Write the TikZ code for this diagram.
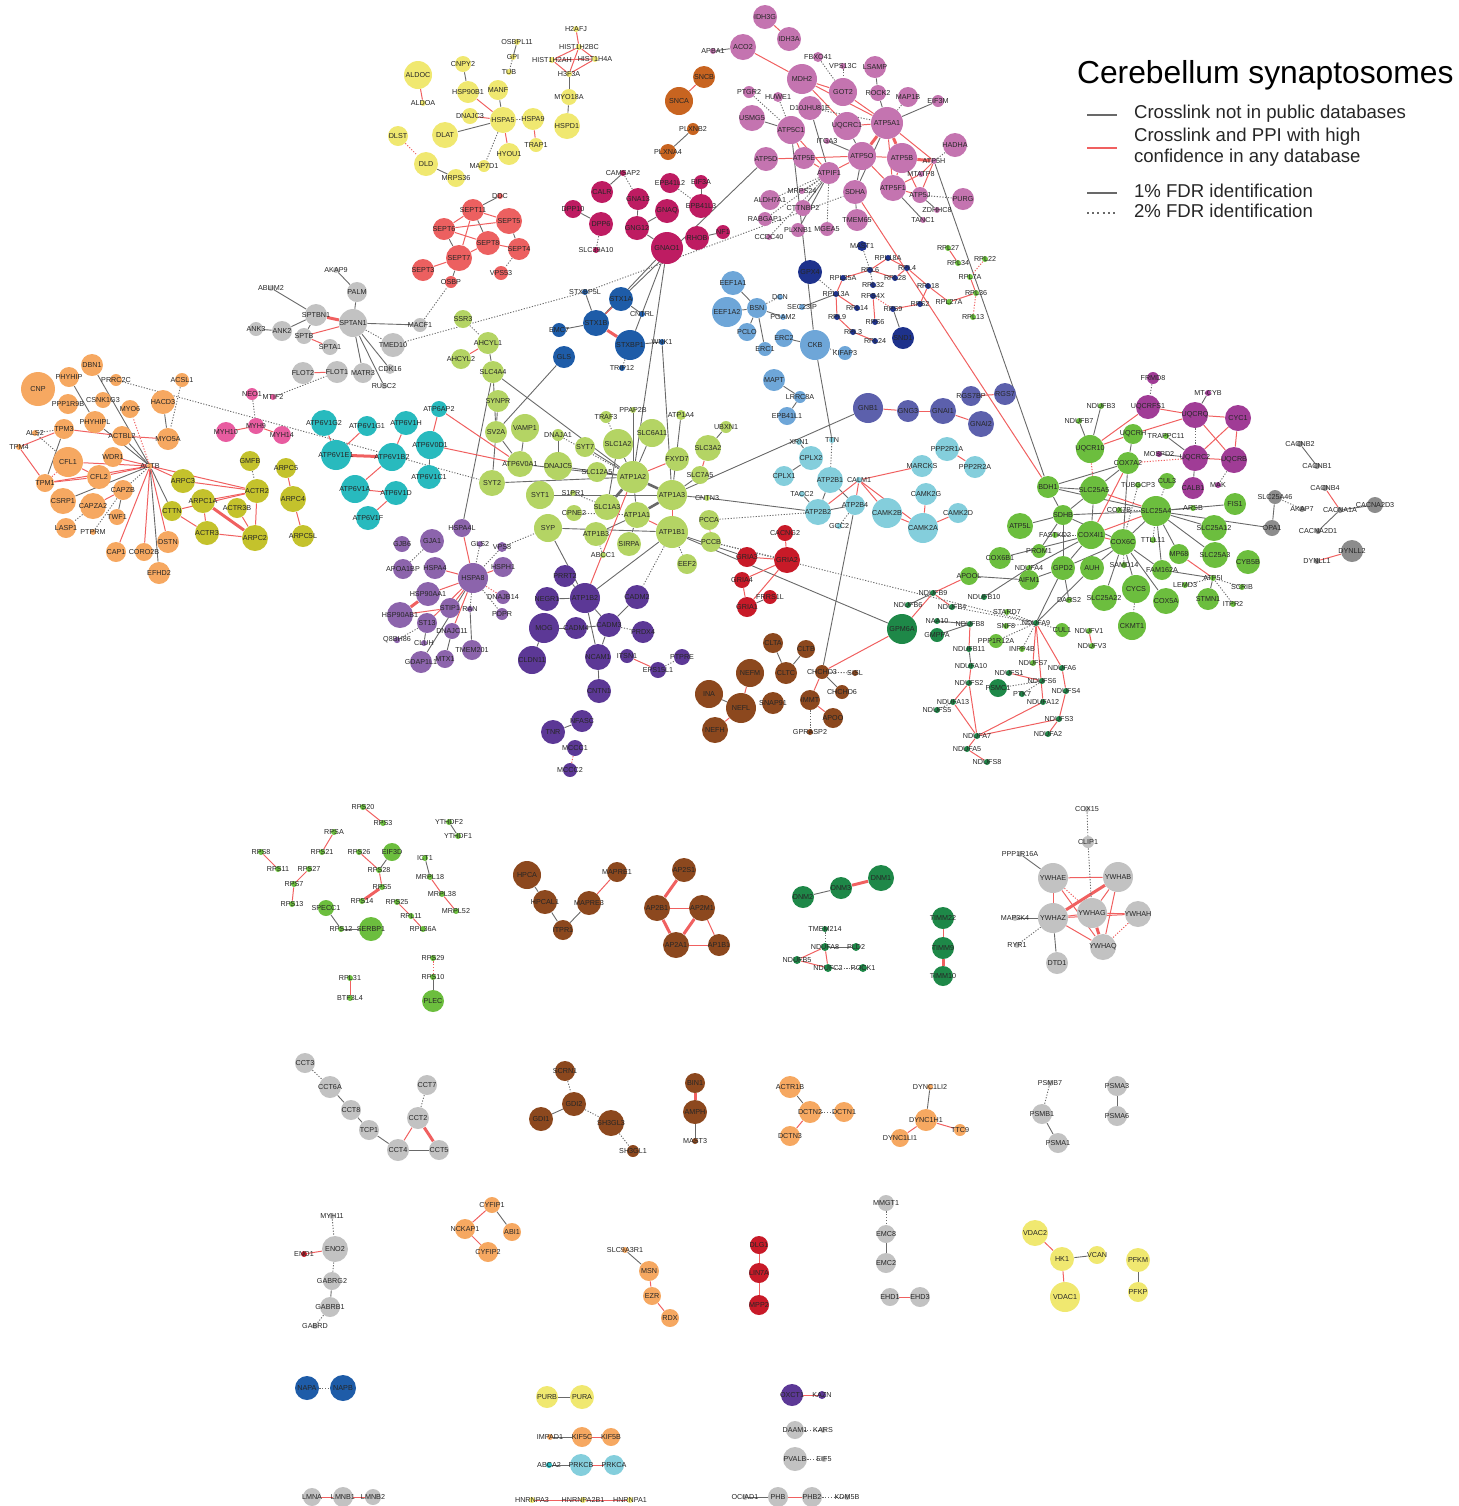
\documentclass[tikz,border=0pt]{standalone}
\usepackage{fontspec}
\setmainfont{Liberation Sans}
\usepackage{tikz}
\usetikzlibrary{positioning}
\definecolor{corange}{RGB}{246,168,97}
\definecolor{colive}{RGB}{196,194,44}
\definecolor{cpink}{RGB}{232,92,160}
\definecolor{cgray}{RGB}{194,194,194}
\definecolor{cdgray}{RGB}{140,140,140}
\definecolor{cyellow}{RGB}{240,232,112}
\definecolor{csalmon}{RGB}{236,96,96}
\definecolor{ccrimson}{RGB}{190,28,98}
\definecolor{corchid}{RGB}{196,116,176}
\definecolor{crust}{RGB}{200,100,32}
\definecolor{cteal}{RGB}{40,186,190}
\definecolor{clime}{RGB}{180,212,100}
\definecolor{cblue}{RGB}{30,92,168}
\definecolor{csky}{RGB}{110,166,216}
\definecolor{cnavy}{RGB}{30,50,140}
\definecolor{cgreen}{RGB}{108,190,62}
\definecolor{cslate}{RGB}{92,96,172}
\definecolor{ccyan}{RGB}{132,206,220}
\definecolor{clav}{RGB}{140,100,172}
\definecolor{cdpurp}{RGB}{92,56,150}
\definecolor{cred}{RGB}{200,26,40}
\definecolor{cbrown}{RGB}{140,72,30}
\definecolor{cmag}{RGB}{160,60,150}
\definecolor{cdgreen}{RGB}{30,136,72}
\definecolor{edgegray}{RGB}{105,105,105}
\definecolor{edgered}{RGB}{240,96,96}
\pgfdeclarelayer{edges}
\pgfsetlayers{edges,main}
\tikzset{
    prot/.style={circle, inner sep=0pt, minimum size=#1*0.5pt, text=black!85,
        font=\fontsize{3.6pt}{4pt}\selectfont},
    ge/.style={draw=edgegray, line width=0.45pt},
    re/.style={draw=edgered, line width=0.5pt},
    gd/.style={ge, dash pattern=on 0.6pt off 0.8pt},
    rd/.style={re, dash pattern=on 0.6pt off 0.8pt},
    geT/.style={ge, line width=1.3pt},
    reT/.style={re, line width=1.5pt},
    legtxt/.style={anchor=west, align=left, font=\fontsize{9.3pt}{10.6pt}\selectfont, text=black!85},
}
\begin{document}
\begin{tikzpicture}[x=0.5pt, y=-0.5pt]
    \useasboundingbox (0,0) rectangle (1458,1506);

    % Actin
    \foreach \n/\x/\y/\d in {CNP/38/389/34, PHYHIP/69/377/20, DBN1/92/365/22, PRRC2C/116/380/12,
        ACSL1/182/380/14, PPP1R9B/68/404/20, CSNK1G3/103/400/16, MYO6/130/409/18, HACD3/163/402/24,
        PHYHIPL/95/422/22, TPM3/64/429/20, ALS2/35/433/6, TPM4/19/447/6, ACTBL2/122/436/20,
        MYO5A/168/439/22, CFL1/68/462/30, WDR1/113/457/20, ACTB/150/466/6, TPM1/45/483/18,
        CFL2/99/477/24, CSRP1/63/501/26, CAPZB/123/490/20, CAPZA2/93/506/26, TWF1/117/517/16,
        LASP1/66/528/20, PTPRM/93/532/6, CAP1/116/552/20, CORO2B/144/552/18, DSTN/168/542/22,
        EFHD2/159/573/22, CYFIP1/492/1205/16, NCKAP1/465/1229/20, ABI1/512/1232/18, CYFIP2/488/1252/20,
        SLC9A3R1/625/1250/6, MSN/649/1271/20, EZR/652/1296/18, RDX/670/1318/18,
        ACTR1B/790/1087/22, DCTN2/810/1112/22, DCTN1/844/1112/20, DCTN3/790/1136/20,
        DYNC1LI2/930/1087/6, DYNC1H1/926/1120/22, DYNC1LI1/900/1138/18, TTC9/960/1130/12,
        IMPAD1/550/1437/6, KIF5C/582/1437/20, KIF5B/611/1437/18}
        \node[prot=\d, fill=corange] (\n) at (\x,\y) {\makebox[0pt]{\n}};

    % Arp2/3
    \foreach \n/\x/\y/\d in {ARPC3/183/481/24, GMFB/250/461/20, ARPC5/286/468/20, ACTR2/257/491/24,
        ARPC4/293/499/26, ARPC1A/203/501/24, ACTR3B/237/508/20, CTTN/172/511/20, ACTR3/207/533/24,
        ARPC2/255/538/26, ARPC5L/303/536/22}
        \node[prot=\d, fill=colive] (\n) at (\x,\y) {\makebox[0pt]{\n}};

    % Myosin
    \foreach \n/\x/\y/\d in {NEO1/252/394/12, MTIF2/273/397/6, MYH10/226/432/20, MYH9/256/426/16,
        MYH14/282/435/18}
        \node[prot=\d, fill=cpink] (\n) at (\x,\y) {\makebox[0pt]{\n}};

    % Grey proteins
    \foreach \n/\x/\y/\d in {AKAP9/336/270/6, ABLIM2/271/288/6, PALM/357/292/20, SPTBN1/316/315/22,
        SPTAN1/353/323/28, MACF1/420/325/14, ANK3/256/329/14, ANK2/282/331/20, SPTB/304/336/16,
        SPTA1/330/347/16, TMED10/393/345/24, FLOT2/303/373/22, FLOT1/337/372/22, MATR3/363/373/20,
        CDK16/390/369/10, RUSC2/384/386/6,
        COX15/1087/809/6, CLIP1/1088/842/12, PPP1R16A/1020/854/6, YWHAE/1053/878/30, YWHAB/1118/877/30,
        YWHAG/1092/913/30, YWHAH/1138/914/26, MAP3K4/1015/918/6, YWHAZ/1053/918/30, RYR1/1017/945/6,
        YWHAQ/1103/947/26, DTD1/1057/963/22,
        CCT3/305/1063/20, CCT6A/330/1087/22, CCT8/351/1110/20, CCT7/427/1085/20, TCP1/369/1130/20,
        CCT2/418/1118/22, CCT4/398/1150/22, CCT5/439/1150/20,
        PSMB7/1050/1083/6, PSMB1/1042/1114/20, PSMA1/1058/1143/20, PSMA3/1117/1086/20, PSMA6/1117/1116/20,
        MYH11/332/1216/6, ENO2/335/1249/26, GABRG2/332/1281/18, GABRB1/330/1307/20, GABRD/315/1326/6,
        MMGT1/886/1203/16, EMC8/886/1234/18, EMC2/886/1263/20, EHD1/890/1297/18, EHD3/920/1297/20,
        DAAM1/795/1430/18, KARS/823/1430/6, PVALB/795/1459/24, EIF5/824/1459/6,
        LMNA/312/1497/18, LMNB1/343/1497/20, LMNB2/373/1497/16,
        OCIAD1/745/1497/6, PHB/778/1497/20, PHB2/812/1497/20, KDM5B/847/1497/6}
        \node[prot=\d, fill=cgray] (\n) at (\x,\y) {\makebox[0pt]{\n}};
    \foreach \n/\x/\y/\d in {CACNB2/1300/444/6, CACNB1/1317/466/6, CACNB4/1325/488/6, SLC25A46/1275/497/14,
        AKAP7/1302/509/6, CACNA1A/1340/510/6, CACNA2D3/1375/505/16, OPA1/1272/528/16,
        CACNA2D1/1318/531/6, DYNLL2/1352/551/22, DYNLL1/1317/561/6}
        \node[prot=\d, fill=cdgray] (\n) at (\x,\y) {\makebox[0pt]{\n}};

    % V-ATPase
    \foreach \n/\x/\y/\d in {ATP6AP2/439/409/16, ATP6V1G2/324/423/26, ATP6V1G1/367/426/20, ATP6V1H/406/423/24,
        ATP6V0D1/430/445/28, ATP6V1E1/336/455/30, ATP6V1B2/392/457/28, ATP6V1C1/429/477/24,
        ATP6V1A/355/489/28, ATP6V1D/396/493/24, ATP6V1F/368/518/24, ABCA2/549/1465/6}
        \node[prot=\d, fill=cteal] (\n) at (\x,\y) {\makebox[0pt]{\n}};

    % Chaperones (ER)
    \foreach \n/\x/\y/\d in {ALDOC/418/75/28, ALDOA/423/103/6, CNPY2/463/64/16, OSBPL11/517/42/6,
        GPI/513/57/6, TUB/509/72/6, HSP90B1/468/92/22, MANF/498/90/20, DNAJC3/470/116/16,
        HSPA5/503/120/26, HSPA9/533/119/22, DLST/398/136/20, DLAT/445/135/26, TRAP1/536/145/14,
        HYOU1/509/154/22, DLD/426/164/24, MAP7D1/484/166/12, MRPS36/456/178/18, H2AFJ/576/29/6,
        HIST1H2BC/579/47/6, HIST1H2AH/552/60/6, HIST1H4A/595/59/6, H3F3A/569/74/6, MYO18A/569/97/16,
        HSPD1/567/126/26,
        VDAC2/1035/1233/26, HK1/1062/1259/24, VCAN/1097/1255/18, VDAC1/1065/1297/30, PFKM/1138/1260/24,
        PFKP/1138/1292/20, PURB/547/1397/22, PURA/582/1397/24,
        HNRNPA3/532/1500/6, HNRNPA2B1/583/1500/6, HNRNPA1/630/1500/6}
        \node[prot=\d, fill=cyellow] (\n) at (\x,\y) {\makebox[0pt]{\n}};

    % Septins
    \foreach \n/\x/\y/\d in {DDC/500/196/6, SEPT11/473/210/22, SEPT5/509/221/26, SEPT6/444/229/22,
        SEPT8/488/243/24, SEPT4/519/249/22, SEPT7/459/258/26, SEPT3/423/270/22, VPS53/501/273/14,
        OSBP/451/282/12}
        \node[prot=\d, fill=csalmon] (\n) at (\x,\y) {\makebox[0pt]{\n}};

    % Synucleins
    \foreach \n/\x/\y/\d in {SNCB/704/77/22, SNCA/679/101/28, PLXNB2/693/129/12, PLXNA4/668/152/16}
        \node[prot=\d, fill=crust] (\n) at (\x,\y) {\makebox[0pt]{\n}};

    % G proteins
    \foreach \n/\x/\y/\d in {CAMSAP2/623/173/6, CALR/602/192/22, EPB41L2/670/183/20, EIF3A/701/182/14,
        GNA13/638/199/22, DPP10/573/209/18, GNAQ/667/211/24, EPB41L3/701/206/24, DPP6/601/224/24,
        GNG12/637/228/24, RHOB/697/238/24, NF1/723/232/14, GNAO1/667/248/32, SLC39A10/596/250/6}
        \node[prot=\d, fill=ccrimson] (\n) at (\x,\y) {\makebox[0pt]{\n}};

    % ATP synthase
    \foreach \n/\x/\y/\d in {IDH3G/765/17/24, IDH3A/789/39/24, APBA1/713/51/6, ACO2/743/47/26,
        FBXO41/818/57/10, VPS13C/843/66/6, LSAMP/875/67/22, MDH2/802/79/30, GOT2/843/92/28,
        ROCK2/878/93/16, MAP1B/908/97/20, EIF3M/938/101/12, PTGR2/749/92/12, HUWE1/778/97/10,
        D10JHU81E/810/108/24, USMG5/752/118/26, UQCRC1/847/126/28, ATP5A1/887/123/32,
        ATP5C1/791/130/28, HADHA/955/145/24, ITGA3/827/141/6, ATP5D/766/159/24, ATP5E/804/158/22,
        ATP5O/862/156/28, ATP5B/902/158/30, ATP5H/934/161/6, ATPIF1/829/173/22, MTATP8/921/174/6,
        SDHA/855/192/24, ATP5F1/893/188/26, ATP5J/920/195/16, PURG/963/199/22, MRPS24/802/191/6,
        ALDH7A1/770/200/20, CTTNBP2/803/208/16, ZDHHC8/937/210/6, TANC1/923/220/6, TMEM65/857/220/22,
        RABGAP1/765/219/14, MGEA5/827/229/14, PLXNB1/798/230/14, CCDC40/769/237/6}
        \node[prot=\d, fill=corchid] (\n) at (\x,\y) {\makebox[0pt]{\n}};

    % Ribosome
    \foreach \n/\x/\y/\d in {MAST1/862/246/10, RPL18A/888/258/6, RPL6/870/270/6, RPL4/907/268/6,
        GPX4/810/272/24, RPL35A/843/278/6, RPL28/895/278/6, RPL32/873/285/6, RPL18/928/286/6,
        RPL13A/836/294/6, RPS4X/873/296/6, RPS9/893/309/6, RPS2/920/304/6, RPL14/857/308/6,
        RPL9/837/317/6, RPS6/875/322/6, RPL3/853/332/6, RPL24/875/341/6, SND1/903/338/22}
        \node[prot=\d, fill=cnavy] (\n) at (\x,\y) {\makebox[0pt]{\n}};
    \foreach \n/\x/\y/\d in {RPL27/948/248/6, RPL22/985/259/6, RPL34/958/263/6, RPL7A/970/277/6,
        RPL36/976/293/6, RPL27A/949/302/6, RPL13/973/317/6,
        RPS20/363/807/6, RPS3/383/823/6, RPSA/334/832/6, YTHDF2/449/822/6, YTHDF1/458/836/6,
        RPS8/261/852/6, RPS21/322/852/6, RPS26/359/852/6, EIF3D/392/852/18, ICT1/425/858/6,
        RPS11/278/869/6, RPS27/309/869/6, RPS28/379/870/6, MRPL18/430/877/6, RPS7/294/884/6,
        RPS5/382/887/6, MRPL38/442/894/6, RPS14/362/901/6, RPS25/397/902/6, RPS13/292/904/6,
        SPECC1/326/908/16, MRPL52/456/911/6, RPL11/411/916/6, RPS12/341/929/6, SERBP1/371/929/24,
        RPL36A/423/929/6, RPS29/433/958/6, RPS10/433/977/6, RPL31/350/978/6, PLEC/433/1001/22,
        BTF3L4/350/998/6}
        \node[prot=\d, fill=cgreen] (\n) at (\x,\y) {\makebox[0pt]{\n}};

    % Cytoskeleton and active zone
    \foreach \n/\x/\y/\d in {EEF1A1/733/283/24, EEF1A2/727/312/30, BSN/757/308/20, DCN/780/297/6,
        SEC23IP/802/307/6, PGAM2/783/317/6, PCLO/747/332/18, ERC2/784/338/18, ERC1/765/349/14,
        CKB/815/345/30, KIFAP3/845/353/14, MAPT/774/380/22, LRRC8A/800/397/12, EPB41L1/787/416/18}
        \node[prot=\d, fill=csky] (\n) at (\x,\y) {\makebox[0pt]{\n}};

    % Syntaxins
    \foreach \n/\x/\y/\d in {STXBP5L/585/292/6, STX1A/621/299/24, STX1B/596/323/26, CNTRL/642/314/6,
        EMC7/559/330/14, STXBP1/630/345/30, WNK1/662/342/6, GLS/564/357/22, TRIP12/622/368/6,
        NAPA/307/1388/24, NAPB/343/1388/26}
        \node[prot=\d, fill=cblue] (\n) at (\x,\y) {\makebox[0pt]{\n}};

    % Na/K-ATPase
    \foreach \n/\x/\y/\d in {SSR3/463/319/18, AHCYL1/488/343/22, AHCYL2/461/359/20, SLC4A4/493/372/22,
        SYNPR/498/401/22, TRAF3/606/417/12, PPAP2B/633/410/6, ATP1A4/681/415/10, UBXN1/726/427/12,
        SV2A/496/432/22, VAMP1/525/428/28, DNAJA1/558/435/12, SYT7/585/447/20, SLC1A2/618/444/30,
        SLC6A11/652/433/28, SLC3A2/708/448/26, FXYD7/677/459/24, ATP6V0A1/520/464/26,
        DNAJC5/558/466/28, SLC12A5/597/472/20, ATP1A2/633/477/32, SLC7A5/700/475/18, SYT2/492/483/26,
        SYT1/540/495/28, S1PR1/573/493/6, ATP1A3/672/495/30, CNTN3/707/498/6, SLC1A3/607/507/26,
        CPNE2/574/513/16, ATP1A1/637/515/26, PCCA/709/520/20, SYP/548/528/28, ATP1B3/596/534/24,
        ATP1B1/672/532/32, SIRPA/629/544/24, PCCB/711/542/20, ABCC1/603/555/6, EEF2/687/564/20}
        \node[prot=\d, fill=clime] (\n) at (\x,\y) {\makebox[0pt]{\n}};

    % Heat shock
    \foreach \n/\x/\y/\d in {HSPA4L/462/528/18, GJA1/432/541/24, GJB6/402/544/16, GLS2/480/544/6,
        VPS8/502/547/10, APOA1BP/403/569/20, HSPA4/435/568/22, HSPA8/473/578/30, HSPH1/503/567/20,
        HSP90AA1/428/594/24, DNAJB14/503/597/14, STIP1/450/608/20, RAN/470/609/6, HSP90AB1/400/615/26,
        PDPR/502/614/12, ST13/427/623/20, DNAJC11/452/631/16, Q8BH86/397/640/6, CLUH/424/643/6,
        TMEM201/472/650/20, GDAP1L1/421/662/22, MTX1/445/659/18}
        \node[prot=\d, fill=clav] (\n) at (\x,\y) {\makebox[0pt]{\n}};

    % Adhesion
    \foreach \n/\x/\y/\d in {PRRT2/565/576/22, NEGR1/547/599/24, ATP1B2/585/598/30, CADM2/637/597/24,
        MOG/544/628/30, CADM4/576/628/22, CADM3/609/625/24, PRDX4/643/632/22, ITSN1/627/656/14,
        NCAM1/598/657/26, PTPRE/682/657/16, EPS15L1/658/670/16, CLDN11/532/660/28, CNTN1/599/691/24,
        NFASC/582/721/22, TNR/553/732/24, MCCC1/575/748/16, MCCC2/570/770/14,
        OXCT1/792/1395/22, KAZN/822/1395/8}
        \node[prot=\d, fill=cdpurp] (\n) at (\x,\y) {\makebox[0pt]{\n}};

    % Glutamate receptors
    \foreach \n/\x/\y/\d in {CACNG2/785/533/16, GRIA3/747/557/20, GRIA2/787/560/26, GRIA4/742/580/16,
        FRRS1L/770/597/14, GRIA1/747/607/20, ENO1/304/1254/6, DLG1/759/1245/18, LIN7A/759/1273/20,
        MPP2/759/1305/20}
        \node[prot=\d, fill=cred] (\n) at (\x,\y) {\makebox[0pt]{\n}};

    % G beta
    \foreach \n/\x/\y/\d in {GNB1/868/408/30, GNG3/908/411/22, GNAI1/943/411/26, RGS7BP/971/396/20,
        RGS7/1005/394/22, GNAI2/981/424/26}
        \node[prot=\d, fill=cslate] (\n) at (\x,\y) {\makebox[0pt]{\n}};

    % Calcium
    \foreach \n/\x/\y/\d in {XRN1/799/442/6, TTN/832/440/6, CPLX2/811/458/24, PPP2R1A/947/449/24,
        PPP2R2A/975/467/22, CPLX1/784/476/20, MARCKS/922/466/22, ATP2B1/830/480/26, CALM1/859/480/6,
        CAMK2G/926/494/22, TACC2/802/494/6, ATP2B4/855/505/20, ATP2B2/818/512/26, CAMK2B/887/513/30,
        CAMK2D/958/513/20, GCC2/839/526/6, CAMK2A/923/528/30, PRKCB/581/1465/22, PRKCA/614/1465/20}
        \node[prot=\d, fill=ccyan] (\n) at (\x,\y) {\makebox[0pt]{\n}};

    % Neurofilaments
    \foreach \n/\x/\y/\d in {CLTA/773/643/20, CLTB/806/649/18, CLTC/786/673/22, NEFM/750/673/28,
        CHCHD3/822/672/14, SISL/855/673/6, CHCHD6/842/692/14, IMMT/810/700/20, APOO/833/718/20,
        SNAP91/773/703/22, INA/709/694/28, NEFL/741/708/30, NEFH/715/730/26, GPRASP2/810/732/6,
        HPCA/527/875/28, HPCAL1/545/902/24, MAPRE1/617/872/20, MAPRE3/589/903/24, ITPR1/563/930/20,
        AP2S1/684/870/24, AP2B1/657/908/26, AP2M1/702/908/26, AP2A1/676/945/26, AP1B1/719/945/22,
        SCRN1/565/1071/20, GDI2/574/1104/24, GDI1/541/1119/24, SH3GL3/611/1123/26, SH3GL1/633/1151/12,
        BIN1/695/1083/20, AMPH/695/1112/24, MAST3/695/1141/6}
        \node[prot=\d, fill=cbrown] (\n) at (\x,\y) {\makebox[0pt]{\n}};

    % Mitochondria
    \foreach \n/\x/\y/\d in {BDH1/1048/487/22, NDUFB3/1101/406/6, NDUFB7/1079/421/6, UQCR10/1090/449/28,
        UQCRH/1133/434/20, TRAPPC11/1166/436/6, COX7A2/1128/463/22, CUL3/1167/481/16,
        TUBGCP3/1138/485/6, SLC25A5/1094/490/28, FIS1/1235/504/22, ARSB/1193/508/6, COX7B/1119/510/6,
        SLC25A4/1156/511/30, SDHB/1063/515/20, ATP5L/1020/526/26, SLC25A12/1214/528/26,
        FASTKD2/1055/535/6, COX4I1/1091/535/28, COX6C/1123/542/26, TTLL11/1153/540/6, PROM1/1039/551/14,
        SLC25A3/1215/555/26, MP68/1179/554/20, CYB5B/1248/562/24, COX6B1/1000/558/22, NDUFA4/1029/568/6,
        GPD2/1063/568/24, AUH/1092/568/24, SAMD14/1124/565/6, FAM162A/1162/570/20, APOOL/969/576/18,
        ATP5I/1213/578/6, AIFM1/1029/580/20, LEMD3/1185/585/6, SCRIB/1242/587/6, CYCS/1136/589/28,
        SLC25A22/1104/598/26, DARS2/1069/600/6, COX5A/1166/601/26, STMN1/1208/599/22, ITPR2/1233/604/6,
        CKMT1/1132/626/28, CUL1/1062/630/14, NDUFV1/1089/631/6, NDUFV3/1092/646/6, PPP1R12A/996/641/14,
        STARD7/1007/612/6, SNF8/1006/626/6, INPP4B/1022/649/6, NDUFS7/1033/663/6}
        \node[prot=\d, fill=cgreen] (\n) at (\x,\y) {\makebox[0pt]{\n}};
    \foreach \n/\x/\y/\d in {FRMD8/1153/378/12, UQCRFS1/1148/407/24, UQCRQ/1195/415/26, CYC1/1238/418/26,
        MOSPD2/1159/454/6, UQCRC2/1195/458/26, UQCRB/1234/460/26, CALB1/1193/488/22, MAK/1218/485/6}
        \node[prot=\d, fill=cmag] (\n) at (\x,\y) {\makebox[0pt]{\n}};
    \node[prot=6, fill=cmag] (MTCYB) at (1208,393) {\makebox[0pt]{MT-CYB}};

    % Complex I
    \foreach \n/\x/\y/\d in {NDUFB9/933/593/6, NDUFB10/984/597/6, NDUFB6/908/605/6, NDUFB4/952/607/6,
        GPM6A/902/629/30, NAA10/937/621/6, NDUFB8/970/624/6, NDUFA9/1036/623/6, GMPPA/937/635/14,
        NDUFB11/969/649/6, NDUFA10/971/666/6, NDUFA6/1062/668/6, NDUFS1/1009/673/6, NDUFS6/1042/681/6,
        NDUFS2/969/683/6, PSMC1/998/688/18, PTK7/1022/694/6, NDUFS4/1066/691/6, NDUFA13/953/702/6,
        NDUFA12/1043/702/6, NDUFS5/937/710/6, NDUFS3/1059/719/6, NDUFA2/1048/734/6, NDUFA7/977/736/6,
        NDUFA5/967/749/6, NDUFS8/987/762/6,
        DNM1/881/878/26, DNM3/841/888/22, DNM2/803/897/22, TMEM214/825/929/6, NDUFA8/825/947/8,
        PLD2/856/947/8, NDUFB5/797/960/8, NDUFC2/828/968/8, ROCK1/863/968/8, TIMM22/943/918/22,
        TIMM9/943/948/22, TIMM10/943/976/20}
        \node[prot=\d, fill=cdgreen] (\n) at (\x,\y) {\makebox[0pt]{\n}};

    % Connections
    \begin{pgfonlayer}{edges}
    \foreach \a/\b in {ACTB/DBN1, ACTB/PHYHIPL, ACTB/ACTBL2, ACTB/CSRP1, ACTB/EFHD2, ACTB/CTTN,
        PHYHIP/PHYHIPL, HACD3/MYO5A, TPM3/TPM1, CAPZB/TWF1,
        AKAP9/PALM, ABLIM2/SPTBN1, PALM/SPTAN1, ANK3/ANK2, ANK2/SPTBN1, SPTAN1/MACF1, SPTAN1/MATR3,
        SPTAN1/CDK16, SPTAN1/RUSC2, SPTB/SPTBN1, ATP6V0D1/ATP6V1C1,
        CNPY2/HSP90B1, MANF/HSPA5, HSPA5/DLAT, OSBPL11/GPI, DLD/MRPS36, H3F3A/MYO18A, MYO18A/HSPD1,
        DDC/SEPT11, SEPT11/SEPT8, SEPT5/SEPT4, SEPT7/OSBP, SEPT6/SEPT7, PLXNB2/PLXNA4,
        CAMSAP2/CALR, EIF3A/EPB41L3, GNA13/GNG12, GNAQ/GNG12, GNG12/GNAO1, DPP10/DPP6, RHOB/NF1,
        GNAO1/STXBP1, GNAO1/ATP1A2, GNAO1/STX1B,
        APBA1/ACO2, LSAMP/ROCK2, ROCK2/ATP5A1, EIF3M/ATP5A1, USMG5/ATP5C1, D10JHU81E/ATPIF1,
        UQCRC1/ATP5O, ATP5O/SDHA, ITGA3/ATP5O, ATP5J/ZDHHC8, ATP5F1/TANC1, ATPIF1/CTTNBP2,
        ATPIF1/PLXNB1, SDHA/TMEM65, ATP5C1/CKB, ATP5H/BDH1, ATP5D/STX1B, ATP5A1/SDHA,
        RPL13A/SEC23IP, RPS9/SND1,
        EEF1A1/BSN, BSN/EEF1A2, BSN/PGAM2, BSN/PCLO, BSN/ERC1, ERC2/CKB, MAPT/LRRC8A, LRRC8A/EPB41L1,
        CKB/TTN, STX1B/EMC7, STXBP1/WNK1, STX1A/CNTRL, GLS/SV2A, STXBP5L/STX1B, WNK1/ATP1A3,
        AHCYL1/SLC4A4, SLC4A4/HSPA4L, SLC4A4/ATP1A2, SLC4A4/SV2A, SYNPR/SV2A, SV2A/SYT2,
        SV2A/ATP6V0A1, VAMP1/ATP6V0A1, DNAJA1/DNAJC5, SYT7/ATP1A2, SLC1A2/ATP1A2, SLC1A2/SLC1A3,
        SLC6A11/ATP1A2, PPAP2B/ATP1A2, ATP1A4/ATP1A3, UBXN1/SLC3A2, SLC7A5/ATP1A3, ATP1A2/SLC12A5,
        ATP1A2/DNAJC5, ATP1A2/ATP6V0A1, ATP1A3/CNTN3, CNTN3/ATP2B2, SYT1/ATP1A3, SYP/ATP1B1,
        SIRPA/ATP1A1, ATP1B3/ATP1A1, ATP1B1/ATP1B2, SYP/ATP1B2, ATP1B1/GPM6A, ATP1B1/GRIA3,
        GNB1/ATP1A3, ATP1A2/ATP1A1, SYT2/ATP1A2,
        HSPA8/GDAP1L1, ST13/CLUH, DNAJC11/MTX1, RAN/TMEM201,
        PRRT2/ATP1B2, NEGR1/ATP1B2, ATP1B2/CADM3, ATP1B2/NCAM1, CADM2/CADM3, MOG/CADM4, CADM4/CADM3,
        CADM3/NCAM1, MOG/CLDN11, NCAM1/CNTN1, NFASC/TNR, GRIA1/FRRS1L,
        XRN1/CPLX2, CPLX2/CPLX1, ATP2B1/ATP2B2, ATP2B1/ATP2B4, TACC2/ATP2B2, ATP2B2/ATP2B4,
        ATP2B4/CHCHD3, INA/NEFL, CLTA/CLTC, CLTB/CLTC, CHCHD3/CHCHD6,
        NDUFB3/UQCR10, NDUFB7/UQCR10, COX7A2/BDH1, COX7A2/SLC25A5, COX7A2/COX6C, BDH1/SLC25A5,
        BDH1/SLC25A4, BDH1/SDHB, SDHB/SLC25A5, SDHB/SLC25A4, ATP5L/SDHB, COX6C/SLC25A4, SLC25A4/FIS1,
        SLC25A4/SLC25A12, SLC25A4/MP68, SLC25A4/FAM162A, SLC25A4/OPA1, SLC25A4/SLC25A3, COX6C/CYCS,
        COX6C/SLC25A22, COX6C/FAM162A, COX6C/COX5A, COX6C/AUH, COX6C/GPD2, COX4I1/GPD2, COX4I1/NDUFA4,
        GPD2/AIFM1, GPD2/DARS2, AIFM1/APOOL, ATP5I/STMN1, NDUFA9/GPD2, NDUFA9/AUH, NDUFB10/NDUFA4,
        SLC25A5/COX4I1, SDHB/COX6C, COX7A2/UQCRH, AIFM1/NDUFA4, FAM162A/ATP5I, SDHB/GPD2,
        ARSB/SLC25A4, UQCRC2/CALB1, UQCRC2/MOSPD2, MTCYB/UQCRQ, TRAPPC11/UQCRC2, NDUFB9/NDUFB6,
        NAA10/NDUFB8, GMPPA/NDUFB8, NDUFB11/NDUFA10, COX6B1/COX4I1, PROM1/SDHB,
        SLC25A46/OPA1, CACNA1A/CACNA2D3, CACNB2/CACNB1, CACNA1A/CACNA2D1,
        EIF3D/RPS28, ICT1/MRPL18, SPECC1/RPS12, RPS12/SERBP1, RPS10/PLEC, YTHDF2/YTHDF1,
        HPCA/HPCAL1, HPCAL1/ITPR1, ITPR1/MAPRE3, DNM2/DNM3, NDUFA8/PLD2,
        PPP1R16A/YWHAE, MAP3K4/YWHAZ, YWHAZ/DTD1, CCT6A/CCT8, CCT8/TCP1, TCP1/CCT4, CCT4/CCT5,
        GDI2/GDI1, AMPH/MAST3, ACTR1B/DCTN2, DYNC1LI2/DYNC1H1, PSMB1/PSMA1, PSMA3/PSMA6,
        GABRG2/GABRB1, CYFIP1/ABI1, SLC9A3R1/MSN, EMC8/EMC2, HK1/VCAN, PFKM/PFKP, PURB/PURA,
        IMPAD1/KIF5C, ABCA2/PRKCB, OCIAD1/PHB}
        \draw[ge] (\a) -- (\b);
    \foreach \a/\b in {ATP1A2/ATP1A3, ATP1A3/ATP1A1, SLC1A3/ATP1A2}
        \draw[geT] (\a) -- (\b);
    \foreach \a/\b in {ACTB/WDR1, ACTB/CFL2, ACTB/TPM1, ACTB/CAP1, ACTB/CORO2B, ACTB/DSTN, ACTB/ARPC3,
        ACTB/ACTR2, TPM3/ACTBL2, ACTBL2/MYO5A, TPM4/TPM3, TPM4/TPM1, TPM1/CFL2, CFL1/CFL2, CAPZB/CAPZA2,
        CFL1/ACTB, ARPC3/ACTR2, CTTN/ACTR2, ARPC1A/ACTR2, ARPC1A/ACTR3, ACTR3B/ARPC2, ACTR2/ARPC2,
        ACTR3/ARPC2, CTTN/ACTR3, ARPC5/ARPC4, ARPC4/ARPC5L, MYH10/MYH9, MYH9/MYH14,
        SPTB/SPTAN1, SPTB/SPTA1, FLOT2/FLOT1,
        ATP6V1G2/ATP6V1E1, ATP6V1G1/ATP6V1E1, ATP6V1H/ATP6V1B2, ATP6AP2/ATP6V0D1, ATP6AP2/ATP6V0A1,
        ATP6V0D1/ATP6V0A1, ATP6V1B2/ATP6V1A, ATP6V1A/ATP6V1D, ATP6V1D/ATP6V1F,
        ALDOC/ALDOA, HSP90B1/HSPA5, DNAJC3/HSPA5, HSPA5/HYOU1, HSPA9/TRAP1, H2AFJ/HIST1H2BC,
        HIST1H2BC/HIST1H2AH, HIST1H2BC/H3F3A, HIST1H2BC/HIST1H4A, HIST1H2AH/H3F3A, H3F3A/HIST1H4A,
        HIST1H2AH/HIST1H4A,
        SEPT11/SEPT5, SEPT11/SEPT6, SEPT11/SEPT7, SEPT6/SEPT5, SEPT6/SEPT8, SEPT8/SEPT4, SEPT7/SEPT8,
        SEPT7/SEPT3, SNCB/SNCA,
        IDH3G/IDH3A, ACO2/MDH2, MDH2/GOT2, MDH2/ATP5A1, MDH2/UQCRC1, GOT2/ATP5A1, UQCRC1/ATP5A1,
        ATP5C1/ATP5E, ATP5C1/ATPIF1, ATP5D/ATP5E, ATP5E/ATPIF1, ATP5O/ATPIF1, ATP5O/ATP5B, ATP5O/ATP5F1,
        ATP5B/ATP5F1, ATP5B/ATP5J, ATP5F1/ATP5J, ATP5F1/MTATP8, ATP5H/MTATP8, ATP5A1/ATP5F1,
        ATP5A1/ATP5H, ATP5J/ATP5H, SDHA/BDH1, ATP5E/ATP5O,
        RPL18A/RPL6, RPL18A/RPL4, RPL6/RPL35A, RPL4/RPL28, RPL4/RPL18, RPL18/RPL27A, RPL35A/RPL13A,
        RPL13A/RPL9, RPL13A/RPL14, RPL9/RPL3, RPL3/RPL24, RPS4X/RPS6, RPS9/RPS2, RPL6/RPL28,
        RPL27/RPL34, RPL7A/RPL36, RPL27A/RPL36, RPS2/RPL18,
        STX1A/STX1B, SLC3A2/SLC7A5, FXYD7/ATP1A2, ATP1A3/ATP1B1, ATP1A1/ATP1B1, PCCA/PCCB,
        ATP1A2/ATP1B2, AHCYL2/AHCYL1,
        HSPA4L/HSPA8, HSPA4/HSPA8, HSPH1/HSPA8, HSPA8/HSP90AA1, HSPA8/STIP1, HSPA8/ST13,
        HSPA8/DNAJC11, HSP90AB1/STIP1, ITSN1/EPS15L1,
        GRIA3/GRIA2, GRIA4/GRIA2, GRIA4/GRIA1, GRIA1/GRIA2, CACNG2/GRIA2,
        GNB1/GNG3, GNG3/GNAI1, GNAI1/GNAI2, RGS7BP/RGS7,
        CALM1/ATP2B2, CALM1/ATP2B4, CALM1/MARCKS, CALM1/CAMK2B, CALM1/CAMK2A, CAMK2G/CAMK2A,
        CAMK2B/CAMK2A, CAMK2A/CAMK2D, PPP2R1A/PPP2R2A,
        NEFM/NEFL, NEFL/NEFH, CHCHD3/IMMT, IMMT/APOO, GPM6A/CHCHD3,
        UQCR10/UQCRH, UQCR10/UQCRFS1, UQCRH/UQCRQ, UQCRFS1/UQCRQ, UQCRQ/CYC1, UQCRQ/UQCRB, CYC1/UQCRC2,
        CYC1/UQCRB, UQCRC2/UQCRB, SLC25A5/SLC25A4, COX7A2/COX4I1, COX4I1/SLC25A4, COX4I1/COX6C,
        MP68/ATP5I, NDUFV1/NDUFV3, APOOL/NDUFB9, NDUFB9/GPM6A, NDUFB9/NDUFB4,
        NDUFA9/NDUFS7, NDUFA9/NDUFA6, NDUFA9/NDUFA12, NDUFB8/NDUFB11, NDUFA10/NDUFS2, NDUFS2/NDUFA13,
        NDUFS2/NDUFA7, NDUFA13/NDUFA7, NDUFA7/NDUFA12, NDUFA7/NDUFS3, NDUFA7/NDUFA5, NDUFA5/NDUFS8,
        NDUFA6/NDUFS4, NDUFS4/NDUFS3, NDUFS3/NDUFA2, NDUFS1/NDUFS6,
        DYNLL1/DYNLL2, CACNB4/CACNA1A,
        RPS20/RPS3, RPSA/RPS21, RPS8/RPS11, RPS27/RPS7, RPS7/RPS13, RPS26/RPS28, RPS28/RPS5,
        MRPL18/MRPL38, MRPL38/MRPL52, RPS25/RPL11, RPL11/RPL36A, RPL31/BTF3L4,
        MAPRE3/MAPRE1, AP2B1/AP2M1, AP2M1/AP1B1, AP2A1/AP1B1,
        NDUFA8/NDUFB5, NDUFA8/NDUFC2, NDUFB5/NDUFC2, TIMM22/TIMM9,
        YWHAE/YWHAB, YWHAE/YWHAZ, YWHAE/YWHAQ, YWHAB/YWHAG, YWHAB/YWHAQ, YWHAZ/YWHAG, YWHAZ/YWHAH,
        YWHAZ/YWHAQ, YWHAG/YWHAH, CCT2/CCT4, DCTN2/DCTN3, DYNC1H1/DYNC1LI1, DYNC1H1/TTC9,
        ENO1/ENO2, CYFIP1/NCKAP1, NCKAP1/CYFIP2, MSN/EZR, EZR/RDX, DLG1/LIN7A, LIN7A/MPP2, EHD1/EHD3,
        VDAC2/HK1, HK1/VDAC1, KIF5C/KIF5B, PRKCB/PRKCA, OXCT1/KAZN, LMNA/LMNB1, LMNB1/LMNB2,
        HNRNPA3/HNRNPA2B1, HNRNPA2B1/HNRNPA1, PHB/PHB2}
        \draw[re] (\a) -- (\b);
    \foreach \a/\b in {ARPC1A/ARPC2, SPTBN1/SPTAN1, ATP6V1E1/ATP6V1B2, ATP5A1/ATP5O, ATP5A1/ATP5B,
        ATP5B/ATP5H, STX1B/STXBP1, HSP90AA1/HSP90AB1, RPS5/RPS14, AP2S1/AP2B1, AP2B1/AP2A1,
        AP2M1/AP2A1, DNM3/DNM1, TIMM9/TIMM10, YWHAB/YWHAZ, YWHAG/YWHAQ, CCT2/CCT5, BIN1/AMPH}
        \draw[reT] (\a) -- (\b);
    \foreach \a/\b in {ACSL1/MYO5A, ALS2/TPM3, ALS2/CFL1, CAPZA2/LASP1, CAPZB/PTPRM, CAPZB/ACTB,
        PRRC2C/SYT2, GMFB/ACTR2, NEO1/MYH9, MTIF2/FLOT1, SPTAN1/TMED10, MACF1/OSBP, TMED10/STXBP5L,
        HSPA5/HSPA9, HSPA5/MAP7D1, GPI/TUB, SEPT4/VPS53, CAMSAP2/GNA13, EPB41L2/EPB41L3,
        DPP6/SLC39A10, FBXO41/GOT2, VPS13C/GOT2, MAP1B/ATP5A1, PTGR2/ATP5C1, HUWE1/ATP5C1,
        D10JHU81E/ATP5A1, ATP5J/PURG, HADHA/ATP5H, ATPIF1/MRPS24, ATPIF1/ALDH7A1, ATPIF1/RABGAP1,
        ATPIF1/CCDC40, ATPIF1/MGEA5, STXBP5L/SDHA, MAST1/RPL6, RPL13A/GPX4, RPL6/RPL32,
        BSN/DCN, CKB/KIFAP3, STXBP1/TRIP12, SSR3/AHCYL1, DNAJA1/ATP1A2, TRAF3/SLC1A2, ATP1B1/EEF2,
        ATP1B1/CADM2, PCCB/NDUFA9, PCCA/ATP2B2, VPS8/SYP, PCCB/GRIA2, CPNE2/ATP1A1, S1PR1/SLC1A3,
        ABCC1/ATP1B3, GJA1/APOA1BP, GLS2/HSPA8, VPS8/HSPA8, HSPA8/RAN, HSPA8/PDPR, ST13/Q8BH86,
        CADM3/PRDX4, EPS15L1/PTPRE, TTN/ATP2B1, ATP2B4/GCC2, CHCHD3/SISL, IMMT/GPRASP2,
        FRMD8/UQCRFS1, UQCRQ/UQCRC2, UQCRB/MAK, CUL3/SLC25A4, ATP5I/ITPR2, ATP5I/SCRIB, CYCS/CKMT1,
        NDUFA9/CUL1, NDUFA9/STARD7, NDUFA9/SNF8, NDUFA9/PPP1R12A, NDUFA9/INPP4B, TUBGCP3/COX6C,
        TTLL11/SLC25A4, SAMD14/COX6C, COX7B/SLC25A4, FASTKD2/COX4I1, LEMD3/ATP5I, AKAP7/SLC25A46,
        NDUFA13/NDUFS5, NDUFS6/PSMC1, NDUFS6/PTK7, NDUFB4/NDUFA9,
        TMEM214/NDUFA8, NDUFC2/ROCK1, COX15/CLIP1, CLIP1/YWHAG, RYR1/YWHAZ, CCT3/CCT6A, CCT7/CCT2,
        SCRN1/GDI2, GDI2/SH3GL3, SH3GL3/SH3GL1, DCTN2/DCTN1, PSMB7/PSMB1, MYH11/ENO2, ENO2/GABRG2,
        GABRB1/GABRD, MMGT1/EMC8, NAPA/NAPB, DAAM1/KARS, PVALB/EIF5, PHB2/KDM5B}
        \draw[gd] (\a) -- (\b);
    \foreach \a/\b in {ACTB/MYO6, TPM1/CFL1, DLST/DLD, RPS4X/RPS9, RPL22/RPL7A, RPL36/RPL13,
        HSPA8/DNAJB14, MCCC1/MCCC2, UQCRC2/COX7A2, SLC25A5/UQCR10, RPS29/RPS10, YWHAE/YWHAG,
        YWHAH/YWHAQ}
        \draw[rd] (\a) -- (\b);
    \end{pgfonlayer}

    % Legend
    \node[anchor=west, font=\fontsize{15.9pt}{18pt}\selectfont] (title) at (1070,75) {Cerebellum synaptosomes};
    \coordinate (k1a) at (1087,115); \coordinate (k1b) at (1117,115);
    \coordinate (k2a) at (1087,148); \coordinate (k2b) at (1117,148);
    \coordinate (k3a) at (1087,193); \coordinate (k3b) at (1117,193);
    \coordinate (k4a) at (1087,213); \coordinate (k4b) at (1117,213);
    \draw[ge, line width=1pt] (k1a) -- (k1b);
    \draw[re, line width=1pt] (k2a) -- (k2b);
    \draw[ge, line width=1pt] (k3a) -- (k3b);
    \draw[ge, line width=1pt, dash pattern=on 1pt off 1.6pt] (k4a) -- (k4b);
    \node[legtxt] (key1) at (1127,114) {Crosslink not in public databases};
    \node[legtxt] (key2) at (1127,147) {Crosslink and PPI with high\\confidence in any database};
    \node[legtxt] (key3) at (1127,191) {1\% FDR identification};
    \node[legtxt] (key4) at (1127,211) {2\% FDR identification};
\end{tikzpicture}
\end{document}
